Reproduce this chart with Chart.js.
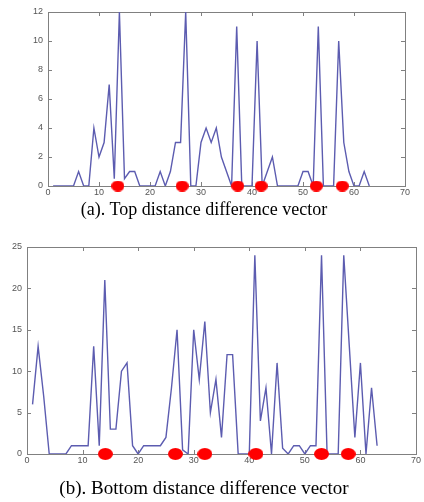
<!DOCTYPE html>
<html><head><meta charset="utf-8">
<script src="https://cdn.jsdelivr.net/npm/chart.js@4/dist/chart.umd.min.js"></script>
<style>
html,body{margin:0;padding:0;background:#fff;}
body{width:424px;height:502px;position:relative;overflow:hidden;}
.wrap{position:absolute;left:0;width:424px;}
.cap{position:absolute;left:0;width:408px;text-align:center;font-family:"Liberation Serif","Times New Roman",serif;color:#000;white-space:nowrap;line-height:1;}
</style></head><body>
<div class="wrap" style="top:0;height:200px"><canvas id="c1" width="424" height="200"></canvas></div>
<div class="cap" style="top:200px;font-size:18px;">(a). Top distance difference vector</div>
<div class="wrap" style="top:235px;height:235px"><canvas id="c2" width="424" height="235"></canvas></div>
<div class="cap" style="top:478px;font-size:19px;">(b). Bottom distance difference vector</div>
<script>
// ---- data ----
const sampleIndex = [1,2,3,4,5,6,7,8,9,10,11,12,13,14,15,16,17,18,19,20,21,22,23,24,25,26,27,28,29,30,31,32,33,34,35,36,37,38,39,40,41,42,43,44,45,46,47,48,49,50,51,52,53,54,55,56,57,58,59,60,61,62,63];
const topDiff = [0,0,0,0,0,1,0,0,4,2,3,7,0.5,12,0.5,1,1,0,0,0,0,1,0,1,3,3,12,0,0,3,4,3,4,2,1,0,11,0,0,0,10,0,1,2,0,0,0,0,0,1,1,0,11,0,0,0,10,3,1,0,0,1,0];
const bottomDiff = [6,13,7,0,0,0,0,1,1,1,1,13,1,21,3,3,10,11,1,0,1,1,1,1,2,8,15,0.5,0,15,9,16,5,9,2,12,12,0,0,0,24,4,8,0,11,0.7,0,1,1,0,1,1,24,0,0,0,24,13,2,11,0,8,1];
const topMarksX = [13.7,26.3,37.2,41.8,52.6,57.7];
const topMarksY = [0,0,0,0,0,0];
const bottomMarksX = [14.1,26.7,32.0,41.2,53.0,57.8];
const bottomMarksY = [0,0,0,0,0,0];
const xTickValues = [0,10,20,30,40,50,60,70];
const topYTicks = [0,2,4,6,8,10,12];
const bottomYTicks = [0,5,10,15,20,25];

// ---- helpers ----
function ellipse(w,h){
  const c=document.createElement('canvas');c.width=w;c.height=h;
  const g=c.getContext('2d');g.fillStyle='#ff0000';
  g.beginPath();g.ellipse(w/2,h/2,w/2,h/2,0,0,Math.PI*2);g.fill();
  return c;
}
const boxPlugin = {
  id:'box',
  beforeDatasetsDraw(chart){
    const {ctx, chartArea:a, scales:{x,y}} = chart;
    ctx.save();
    ctx.strokeStyle='#808080';ctx.lineWidth=1;
    ctx.strokeRect(Math.round(a.left)+0.5, Math.round(a.top)+0.5, Math.round(a.right-a.left), Math.round(a.bottom-a.top));
    ctx.beginPath();
    const L=4;
    x.ticks.forEach(t=>{
      const px=Math.round(x.getPixelForValue(t.value))+0.5;
      if(px<=a.left+1||px>=a.right-1) return;
      ctx.moveTo(px,a.bottom);ctx.lineTo(px,a.bottom-L);
      ctx.moveTo(px,a.top);ctx.lineTo(px,a.top+L);
    });
    y.ticks.forEach(t=>{
      const py=Math.round(y.getPixelForValue(t.value))+0.5;
      if(py<=a.top+1||py>=a.bottom-1) return;
      ctx.moveTo(a.left,py);ctx.lineTo(a.left+L,py);
      ctx.moveTo(a.right,py);ctx.lineTo(a.right-L,py);
    });
    ctx.stroke();
    ctx.restore();
  }
};
function makeChart(id, ys, mx, my, yTicks, ymax, geo, dot){
  const tickFont={family:'"Liberation Sans", Arial, sans-serif', size:9};
  return new Chart(document.getElementById(id), {
    type:'line',
    data:{datasets:[
      {data:mx.map((v,i)=>({x:v,y:my[i]})), showLine:false, pointStyle:dot, pointRadius:7, order:0, clip:false},
      {data:sampleIndex.map((v,i)=>({x:v,y:ys[i]})), borderColor:'#5c5cb0', borderWidth:1.4, pointRadius:0, tension:0, order:1}
    ]},
    options:{
      responsive:false, animation:false, events:[],
      layout:{padding:{left:0,right:geo.right,top:geo.top,bottom:0}},
      plugins:{legend:{display:false},tooltip:{enabled:false}},
      scales:{
        x:{type:'linear',min:0,max:70,
          afterBuildTicks(s){s.ticks=xTickValues.map(v=>({value:v}));},
          afterFit(s){s.height=geo.xh;},
          grid:{display:false,drawTicks:false}, border:{display:false},
          ticks:{font:tickFont,color:'#555',padding:geo.xpad,maxRotation:0,autoSkip:false}},
        y:{type:'linear',min:0,max:ymax,
          afterBuildTicks(s){s.ticks=yTicks.map(v=>({value:v}));},
          afterFit(s){s.width=geo.yw;},
          grid:{display:false,drawTicks:false}, border:{display:false},
          ticks:{font:tickFont,color:'#555',padding:5,autoSkip:false}}
      }
    },
    plugins:[boxPlugin]
  });
}
makeChart('c1', topDiff, topMarksX, topMarksY, topYTicks, 12, {right:19,top:12,xh:14,yw:48,xpad:1}, ellipse(13,11));
makeChart('c2', bottomDiff, bottomMarksX, bottomMarksY, bottomYTicks, 25, {right:6,top:12,xh:16,yw:27,xpad:1}, ellipse(15,12));
</script>
</body></html>
